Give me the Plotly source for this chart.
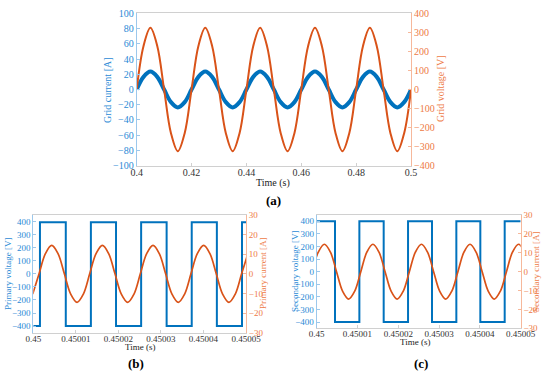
import plotly.graph_objects as go

# ---------------- data ----------------
# (a) grid current / voltage, time in seconds
t_a = [0.4000, 0.4025, 0.4050, 0.4075, 0.4100, 0.4125, 0.4150, 0.4175,
       0.4200, 0.4225, 0.4250, 0.4275, 0.4300, 0.4325, 0.4350, 0.4375,
       0.4400, 0.4425, 0.4450, 0.4475, 0.4500, 0.4525, 0.4550, 0.4575,
       0.4600, 0.4625, 0.4650, 0.4675, 0.4700, 0.4725, 0.4750, 0.4775,
       0.4800, 0.4825, 0.4850, 0.4875, 0.4900, 0.4925, 0.4950, 0.4975, 0.5000]
grid_current = [0, 16.6, 23.5, 16.6, 0, -16.6, -23.5, -16.6,
                0, 16.6, 23.5, 16.6, 0, -16.6, -23.5, -16.6,
                0, 16.6, 23.5, 16.6, 0, -16.6, -23.5, -16.6,
                0, 16.6, 23.5, 16.6, 0, -16.6, -23.5, -16.6,
                0, 16.6, 23.5, 16.6, 0, -16.6, -23.5, -16.6, 0]
grid_voltage = [0, 229, 324, 229, 0, -229, -324, -229,
                0, 229, 324, 229, 0, -229, -324, -229,
                0, 229, 324, 229, 0, -229, -324, -229,
                0, 229, 324, 229, 0, -229, -324, -229,
                0, 229, 324, 229, 0, -229, -324, -229, 0]

# (b)/(c) time offsets in microseconds after 0.45 s
T0 = 0.45
tb_volt_us = [0, 1.57, 7.64, 13.54, 19.45, 25.35, 31.34, 37.24, 43.15, 49.06, 50]
primary_voltage = [-398, 395, -398, 395, -398, 395, -398, 395, -398, 395, 395]
tb_curr_us = [-0.13, 1.36, 2.85, 4.33, 5.82, 7.31, 8.80, 10.29, 11.77, 13.26,
              14.75, 16.24, 17.72, 19.21, 20.70, 22.19, 23.67, 25.16, 26.65,
              28.14, 29.62, 31.11, 32.60, 34.09, 35.57, 37.06, 38.55, 40.04,
              41.52, 43.01, 44.50, 45.99, 47.47, 48.96, 50.45]
primary_current = [-10.3, 0, 10.3, 14.5, 10.3, 0, -10.3, -14.5, -10.3,
                   0, 10.3, 14.5, 10.3, 0, -10.3, -14.5, -10.3,
                   0, 10.3, 14.5, 10.3, 0, -10.3, -14.5, -10.3,
                   0, 10.3, 14.5, 10.3, 0, -10.3, -14.5, -10.3, 0, 10.3]

tc_volt_us = [0, 4.49, 10.46, 16.42, 22.39, 28.27, 34.23, 40.11, 46.08, 50]
secondary_voltage = [400, -400, 400, -400, 400, -400, 400, -400, 400, 400]
tc_curr_us = [-1.10, 0.39, 1.88, 3.37, 4.86, 6.34, 7.83, 9.32, 10.81, 12.29,
              13.78, 15.27, 16.76, 18.24, 19.73, 21.22, 22.71, 24.19, 25.68,
              27.17, 28.66, 30.14, 31.63, 33.12, 34.61, 36.09, 37.58, 39.07,
              40.56, 42.04, 43.53, 45.02, 46.51, 47.99, 49.48, 50.97]
secondary_current = [0, 10.3, 14.5, 10.3, 0, -10.3, -14.5, -10.3,
                     0, 10.3, 14.5, 10.3, 0, -10.3, -14.5, -10.3,
                     0, 10.3, 14.5, 10.3, 0, -10.3, -14.5, -10.3,
                     0, 10.3, 14.5, 10.3, 0, -10.3, -14.5, -10.3,
                     0, 10.3, 14.5, 10.3]

xa_ticks = [0.40, 0.42, 0.44, 0.46, 0.48, 0.50]
xa_ticktext = ['0.4', '0.42', '0.44', '0.46', '0.48', '0.5']
xbc_ticks_us = [0, 10, 20, 30, 40, 50]
xbc_ticktext = ['0.45', '0.45001', '0.45002', '0.45003', '0.45004', '0.45005']

# ---------------- style ----------------
BLUE = '#0072BD'
RED = '#D95319'
BLUE_TXT = '#2a8ad6'
RED_TXT = '#ee7a45'
BLUE_LINE = '#9cc8ec'
RED_LINE = '#f6b89b'
GRAY_LINE = '#d0d0d0'
FONT = 'Liberation Serif'

def us2s(lst):
    return [T0 + u * 1e-6 for u in lst]

fig = go.Figure()

fig.add_trace(go.Scatter(x=t_a, y=grid_current, mode='lines', line=dict(color=BLUE, width=4, shape='spline'),
                         xaxis='x', yaxis='y'))
fig.add_trace(go.Scatter(x=t_a, y=grid_voltage, mode='lines', line=dict(color=RED, width=2, shape='spline'),
                         xaxis='x', yaxis='y2'))

fig.add_trace(go.Scatter(x=us2s(tb_volt_us), y=primary_voltage, mode='lines',
                         line=dict(color=BLUE, width=2, shape='hv'), xaxis='x2', yaxis='y3'))
fig.add_trace(go.Scatter(x=us2s(tb_curr_us), y=primary_current, mode='lines',
                         line=dict(color=RED, width=1.7, shape='spline'), xaxis='x2', yaxis='y4'))

fig.add_trace(go.Scatter(x=us2s(tc_volt_us), y=secondary_voltage, mode='lines',
                         line=dict(color=BLUE, width=2, shape='hv'), xaxis='x3', yaxis='y5'))
fig.add_trace(go.Scatter(x=us2s(tc_curr_us), y=secondary_current, mode='lines',
                         line=dict(color=RED, width=1.7, shape='spline'), xaxis='x3', yaxis='y6'))


def xax(domain, anchor, rng, tv, tt, size):
    return dict(domain=domain, anchor=anchor, range=rng, tickvals=tv, ticktext=tt,
                showline=True, linecolor=GRAY_LINE, linewidth=1, mirror=True,
                ticks='inside', ticklen=3, tickcolor=GRAY_LINE,
                tickfont=dict(family=FONT, size=size, color='#333333'),
                ticklabelstandoff=-3,
                showgrid=False, zeroline=False, automargin=False)


def yax(anchor, rng, tv, color_txt, color_line, size, domain=None, overlaying=None, side='left'):
    d = dict(anchor=anchor, range=rng, tickvals=tv, side=side,
             showline=True, linecolor=color_line, linewidth=1,
             ticks='inside', ticklen=3, tickcolor=color_line,
             tickfont=dict(family=FONT, size=size, color=color_txt),
             showgrid=False, zeroline=False, automargin=False)
    if domain is not None:
        d['domain'] = domain
    if overlaying is not None:
        d['overlaying'] = overlaying
    return d


ya_left = list(range(-100, 101, 20))
ya_right = list(range(-400, 401, 100))
ybc_left = list(range(-400, 401, 100))
ybc_right = list(range(-30, 31, 10))

fig.update_layout(
    template='none',
    width=550, height=375,
    margin=dict(l=0, r=0, t=0, b=0, autoexpand=False),
    paper_bgcolor='white', plot_bgcolor='white',
    showlegend=False,
    xaxis=xax([0.2485, 0.7473], 'y', [0.4, 0.5], xa_ticks, xa_ticktext, 10),
    yaxis=yax('x', [-100, 100], ya_left, BLUE_TXT, BLUE_LINE, 10, domain=[0.5581, 0.9645]),
    yaxis2=yax('x', [-400, 400], ya_right, RED_TXT, RED_LINE, 10, overlaying='y', side='right'),
    xaxis2=xax([0.0605, 0.4473], 'y3', [T0, T0 + 50e-6], us2s(xbc_ticks_us), xbc_ticktext, 9),
    yaxis3=yax('x2', [-450, 450], ybc_left, BLUE_TXT, BLUE_LINE, 9, domain=[0.1128, 0.4267]),
    yaxis4=yax('x2', [-30, 30], ybc_right, RED_TXT, RED_LINE, 9, overlaying='y3', side='right'),
    xaxis3=xax([0.5758, 0.9467], 'y5', [T0, T0 + 50e-6], us2s(xbc_ticks_us), xbc_ticktext, 9),
    yaxis5=yax('x3', [-450, 450], ybc_left, BLUE_TXT, BLUE_LINE, 9, domain=[0.1245, 0.4267]),
    yaxis6=yax('x3', [-30, 30], ybc_right, RED_TXT, RED_LINE, 9, overlaying='y5', side='right'),
)


def ann(text, x_px, y_px, size, color, angle=0, bold=False):
    if bold:
        text = '<b>' + text + '</b>'
    fig.add_annotation(text=text, x=x_px / 550, y=1 - y_px / 375, xref='paper', yref='paper',
                       xanchor='center', yanchor='middle', showarrow=False, textangle=angle,
                       font=dict(family=FONT, size=size, color=color))


# (a)
ann('Time (s)', 273, 183, 10, '#222222')
ann('(a)', 273, 200, 13, '#000000', bold=True)
ann('Grid current [A]', 107, 90, 10, BLUE_TXT, angle=-90)
ann('Grid voltage [V]', 440, 89, 10, RED_TXT, angle=-90)
# (b)
ann('Time (s)', 140, 347, 9, '#222222')
ann('(b)', 136, 363, 13, '#000000', bold=True)
ann('Primary voltage [V]', 8, 274, 9, BLUE_TXT, angle=-90)
ann('Primary current [A]', 263, 274, 9, RED_TXT, angle=-90)
# (c)
ann('Time (s)', 415, 342, 9, '#222222')
ann('(c)', 421, 363, 13, '#000000', bold=True)
ann('Secondary voltage [V]', 295, 272, 9, BLUE_TXT, angle=-90)
ann('Secondary current [A]', 536, 272, 9, RED_TXT, angle=-90)

fig.write_html('out.html', config={'displayModeBar': False},
               post_script="document.body.style.margin='0px';document.body.style.padding='0px';")
